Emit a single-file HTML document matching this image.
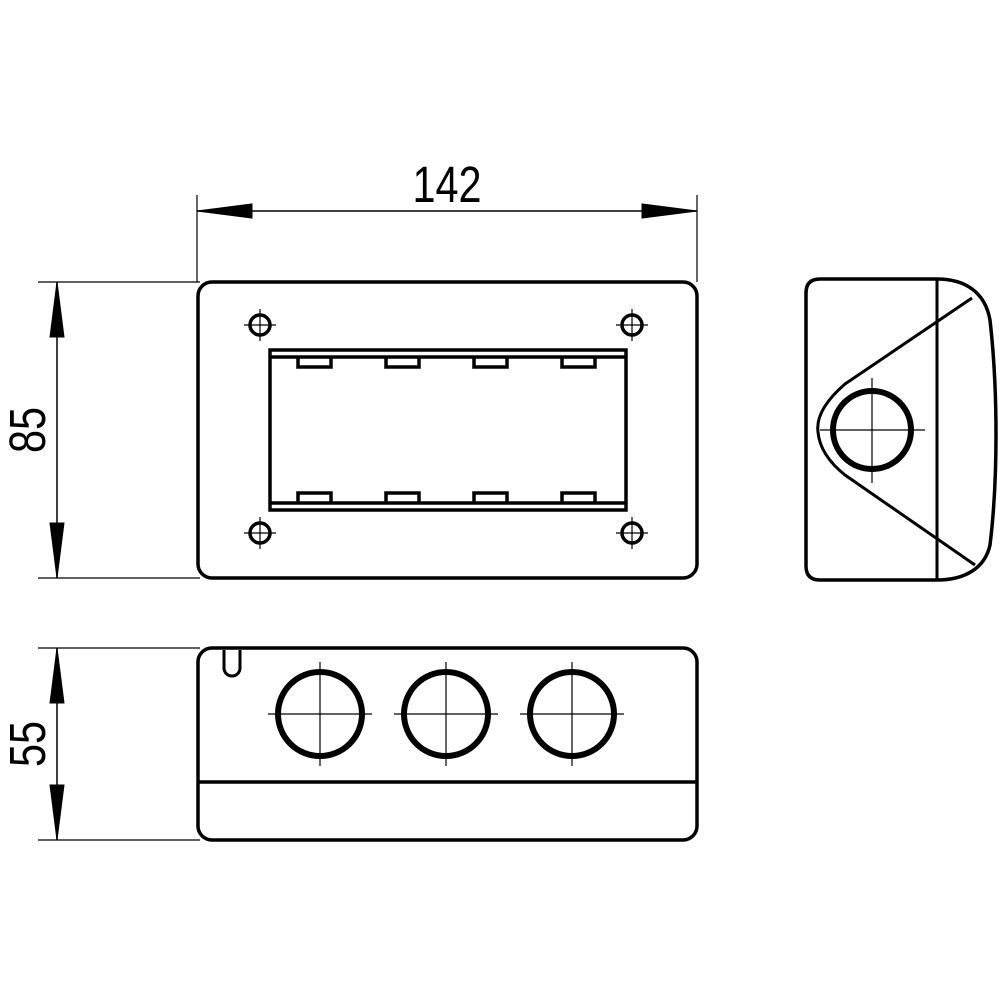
<!DOCTYPE html>
<html><head><style>body{margin:0;background:#fff}svg{display:block}</style></head><body>
<svg width="1000" height="1000" viewBox="0 0 1000 1000" xmlns="http://www.w3.org/2000/svg" fill="none" stroke="#000">
<!-- dimension 142 -->
<line x1="197" y1="195" x2="197" y2="282" stroke-width="1.2"/>
<line x1="697" y1="195" x2="697" y2="282" stroke-width="1.2"/>
<line x1="197" y1="211" x2="697" y2="211" stroke-width="1.5"/>
<polygon points="197,211 252,204 252,218" fill="#000"/>
<polygon points="697,211 642,204 642,218" fill="#000"/>
<text transform="translate(447,202) scale(0.9,1.1)" font-family="Liberation Sans, sans-serif" font-size="46" fill="#000" stroke="none" text-anchor="middle">142</text>
<!-- dimension 85 -->
<line x1="38" y1="282" x2="200" y2="282" stroke-width="1.2"/>
<line x1="38" y1="578" x2="200" y2="578" stroke-width="1.2"/>
<line x1="57" y1="282" x2="57" y2="578" stroke-width="1.5"/>
<polygon points="57,282 50,337 64,337" fill="#000"/>
<polygon points="57,578 50,523 64,523" fill="#000"/>
<text transform="translate(45,430) rotate(-90) scale(0.9,1.1)" font-family="Liberation Sans, sans-serif" font-size="46" fill="#000" stroke="none" text-anchor="middle">85</text>
<!-- dimension 55 -->
<line x1="38" y1="648" x2="200" y2="648" stroke-width="1.2"/>
<line x1="38" y1="840" x2="200" y2="840" stroke-width="1.2"/>
<line x1="57" y1="648" x2="57" y2="840" stroke-width="1.5"/>
<polygon points="57,648 50,703 64,703" fill="#000"/>
<polygon points="57,840 50,785 64,785" fill="#000"/>
<text transform="translate(45,744) rotate(-90) scale(0.9,1.1)" font-family="Liberation Sans, sans-serif" font-size="46" fill="#000" stroke="none" text-anchor="middle">55</text>

<!-- front view -->
<rect x="198" y="282" width="499" height="296" rx="14" stroke-width="3.5"/>
<rect x="270" y="350" width="356" height="160" stroke-width="3.5"/>
<line x1="270" y1="357" x2="626" y2="357" stroke-width="3.5"/>
<line x1="270" y1="503" x2="626" y2="503" stroke-width="3.5"/>
<g stroke-width="3.5">
<path d="M298 357 v10 h33 v-10 M386 357 v10 h33 v-10 M474 357 v10 h33 v-10 M562 357 v10 h33 v-10"/>
<path d="M298 503 v-10 h33 v10 M386 503 v-10 h33 v10 M474 503 v-10 h33 v10 M562 503 v-10 h33 v10"/>
</g>
<g stroke-width="3.5">
<circle cx="260" cy="325" r="10"/><circle cx="632" cy="325" r="10"/>
<circle cx="260" cy="533" r="10"/><circle cx="632" cy="533" r="10"/>
</g>
<g stroke-width="1.2">
<path d="M244 325h32M260 309v32M616 325h32M632 309v32M244 533h32M260 517v32M616 533h32M632 517v32"/>
</g>

<!-- side view -->
<path d="M820 279 H937 C965 279 985 292 990 320 C998 390 998 480 990 545 C985 568 965 580 937 580 H820 Q806 580 806 566 V293 Q806 279 820 279 Z" stroke-width="3.5"/>
<line x1="937" y1="279" x2="937" y2="580" stroke-width="3"/>
<path d="M972 298 L845 384 Q815 410 818 432 Q820 455 845 475 L975 565" stroke-width="3"/>
<circle cx="872" cy="430" r="39" stroke-width="6"/>
<path d="M820 430h105M872 378v105" stroke-width="1.2"/>

<!-- bottom view -->
<rect x="198" y="648" width="499" height="192" rx="14" stroke-width="3.5"/>
<line x1="198" y1="782" x2="697" y2="782" stroke-width="3.5"/>
<path d="M224 650 v18 a8 8 0 0 0 16 0 v-18" stroke-width="3"/>
<circle cx="320" cy="714" r="42" stroke-width="6"/>
<circle cx="446" cy="714" r="42" stroke-width="6"/>
<circle cx="572" cy="714" r="42" stroke-width="6"/>
<path d="M268 714h104M320 662v104M394 714h104M446 662v104M520 714h104M572 662v104" stroke-width="1.2"/>
</svg>
</body></html>
